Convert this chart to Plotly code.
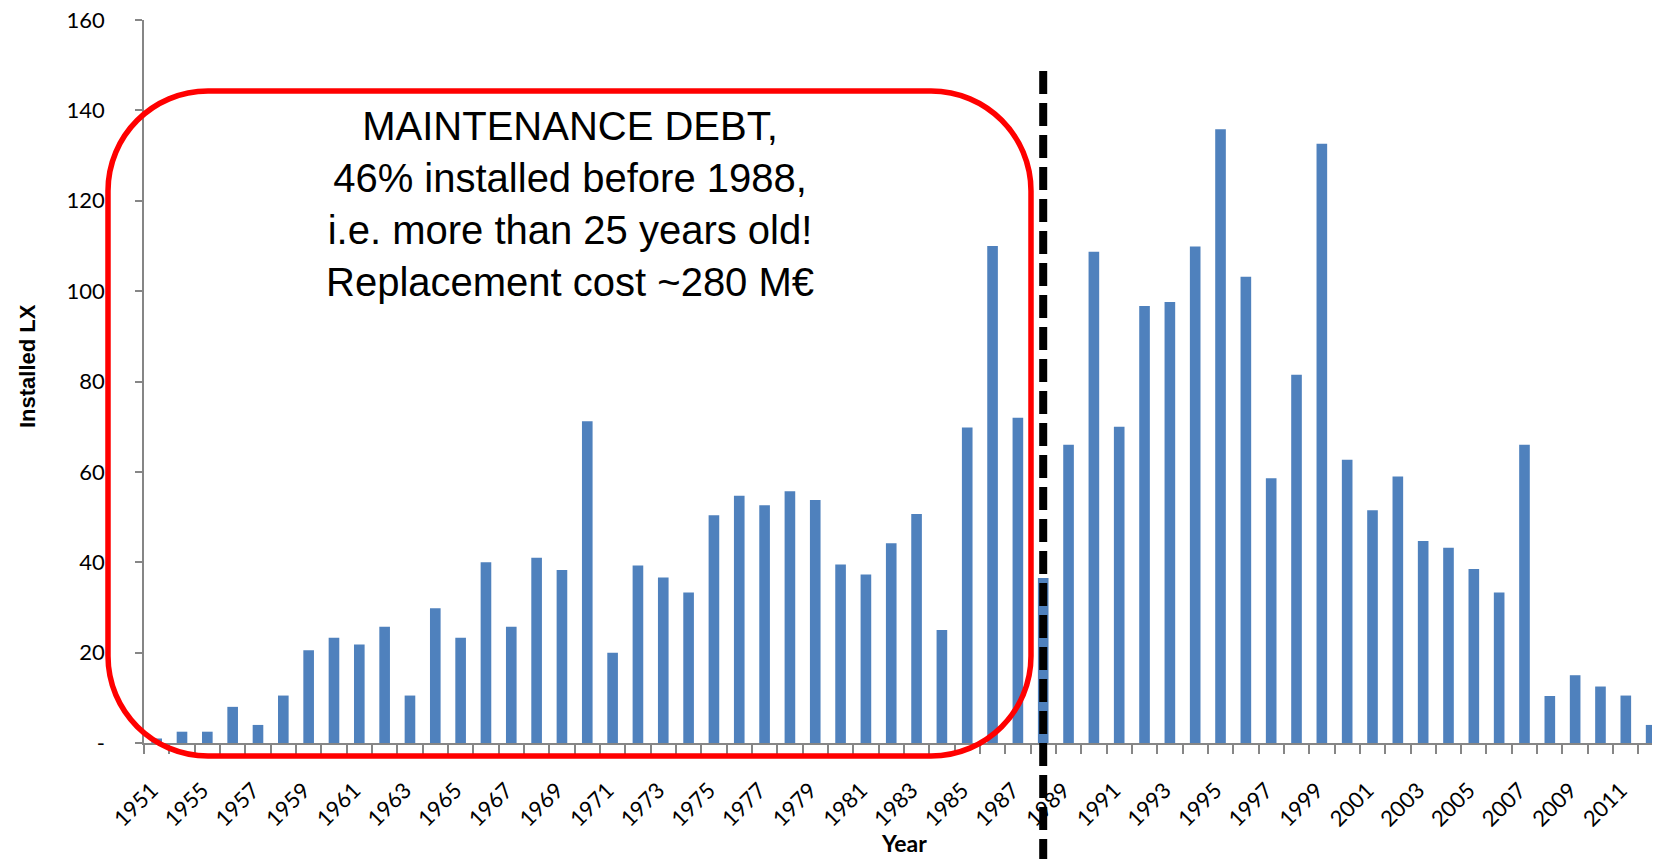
import plotly.graph_objects as go

years = ["1951"] + [str(y) for y in range(1954, 2013)]
installed = [1, 2.5, 2.5, 8, 4, 10.5, 20.5, 23.3, 21.8, 25.7, 10.5, 29.8, 23.3, 40, 25.7,
             41, 38.3, 71.2, 20, 39.3, 36.6, 33.3, 50.4, 54.7, 52.6, 55.7, 53.8, 39.5,
             37.3, 44.2, 50.7, 25, 69.8, 110, 72, 36.5, 66, 108.7, 70, 96.7, 97.6, 109.9,
             135.8, 103.2, 58.6, 81.5, 132.6, 62.7, 51.5, 59, 44.7, 43.2, 38.5, 33.3, 66,
             10.4, 15, 12.5, 10.5, 4]
tick_text = [y if i % 2 == 0 else "" for i, y in enumerate(years)]
y_ticks = [0, 20, 40, 60, 80, 100, 120, 140, 160]
y_text = ["-"] + [str(v) for v in y_ticks[1:]]
note_lines = ["MAINTENANCE DEBT,", "46% installed before 1988,",
              "i.e. more than 25 years old!", "Replacement cost ~280 M€"]
cutoff_year = "1988"

OFF = 8  # page body margin
W, H = 1660 - OFF, 859 - OFF
L, R, T, B = 144 - OFF, 0, 20 - OFF, 116
PW, PH = W - L - R, H - T - B


def px(x):
    return (x - OFF - L) / PW


def py(y):
    return (OFF + T + PH - y) / PH


def rounded_rect(x0, y0, x1, y1, r):
    k = 0.5523 * r
    P = lambda x, y: f"{px(x):.5f},{py(y):.5f}"
    d = f"M {P(x0 + r, y0)} L {P(x1 - r, y0)} "
    d += f"C {P(x1 - r + k, y0)} {P(x1, y0 + r - k)} {P(x1, y0 + r)} "
    d += f"L {P(x1, y1 - r)} "
    d += f"C {P(x1, y1 - r + k)} {P(x1 - r + k, y1)} {P(x1 - r, y1)} "
    d += f"L {P(x0 + r, y1)} "
    d += f"C {P(x0 + r - k, y1)} {P(x0, y1 - r + k)} {P(x0, y1 - r)} "
    d += f"L {P(x0, y0 + r)} "
    d += f"C {P(x0, y0 + r - k)} {P(x0 + r - k, y0)} {P(x0 + r, y0)} Z"
    return d


cat_w = 25.33
fig = go.Figure()
fig.add_trace(go.Bar(x=years, y=installed, marker=dict(color="#4F81BD", line=dict(width=0)),
                     showlegend=False))

axis_gray = "#868686"
fig.update_layout(
    width=W, height=H,
    margin=dict(l=L, r=R, t=T, b=B, autoexpand=False),
    plot_bgcolor="white", paper_bgcolor="white",
    bargap=0.58,
    font=dict(family="Lato", size=22, color="black"),
    xaxis=dict(type="category", range=[-0.5, -0.5 + PW / cat_w], tickmode="array",
               tickvals=years, ticktext=tick_text, tickson="boundaries", ticks="outside",
               ticklen=9, tickwidth=1.5, tickcolor=axis_gray, tickangle=-45,
               ticklabelshift=-5, ticklabelstandoff=24, ticklabeloverflow="allow",
               showline=True, linecolor=axis_gray, linewidth=1.5, showgrid=False,
               tickfont=dict(family="Lato", size=22)),
    yaxis=dict(range=[0, 160], tickmode="array", tickvals=y_ticks, ticktext=y_text,
               ticks="outside", ticklen=7, tickwidth=1.5, tickcolor=axis_gray,
               ticklabelstandoff=26, ticklabeloverflow="allow",
               showline=True, linecolor=axis_gray, linewidth=1.5, showgrid=False,
               zeroline=False, tickfont=dict(family="Lato", size=22)),
)

fig.add_shape(type="path", xref="paper", yref="paper",
              path=rounded_rect(108, 91, 1031, 756, 100),
              line=dict(color="#FF0000", width=5.5), fillcolor="rgba(0,0,0,0)")

idx = years.index(cutoff_year)
fig.add_shape(type="line", xref="x", yref="paper", x0=idx, x1=idx,
              y0=py(71), y1=py(862),
              line=dict(color="black", width=8, dash="23px,9px"))

fig.add_annotation(text="<br>".join(note_lines), xref="paper", yref="paper",
                   x=px(570), y=py(204), xanchor="center", yanchor="middle",
                   showarrow=False, align="center",
                   font=dict(family="Liberation Sans", size=40, color="black"))
fig.add_annotation(text="<b>Installed LX</b>", xref="paper", yref="paper",
                   x=px(27), y=py(366), xanchor="center", yanchor="middle",
                   textangle=-90, showarrow=False,
                   font=dict(family="Liberation Sans", size=22, color="black"))
fig.add_annotation(text="<b>Year</b>", xref="paper", yref="paper",
                   x=px(904), y=py(843), xanchor="center", yanchor="middle",
                   showarrow=False, font=dict(family="Lato", size=23, color="black"))

fig.write_html("out.html")
